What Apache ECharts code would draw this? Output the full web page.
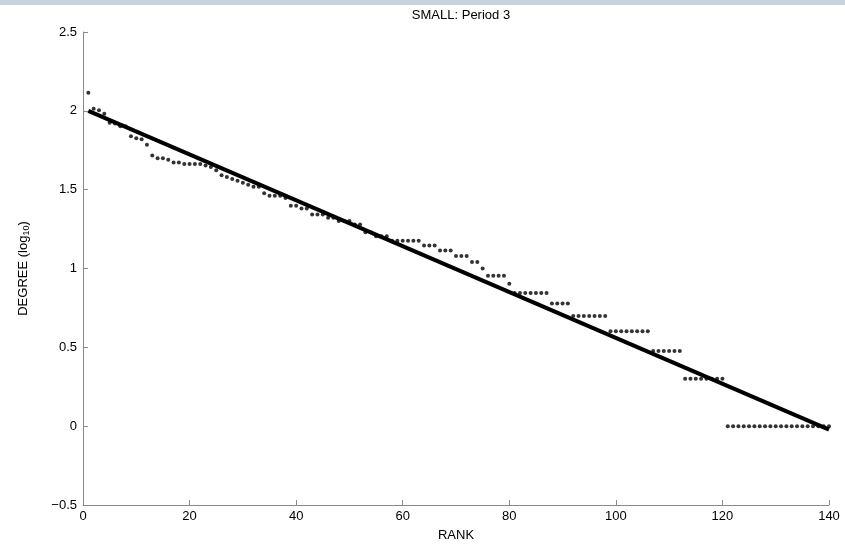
<!DOCTYPE html>
<html><head><meta charset="utf-8">
<script src="https://cdn.jsdelivr.net/npm/echarts@6/dist/echarts.min.js"></script>
<style>html,body{margin:0;padding:0;background:#fff}#c{width:845px;height:547px}</style>
</head><body><div id="c"></div>
<script>
const titleText = 'SMALL: Period 3';
const xName = 'RANK';
const ranks = [];
const degreeLog = [
 2.114, 2.013, 2.004, 1.982, 1.924, 1.919, 1.903, 1.903, 1.839, 1.826,
 1.820, 1.785, 1.716, 1.699, 1.699, 1.690, 1.672, 1.672, 1.663, 1.663,
 1.663, 1.663, 1.653, 1.643, 1.623, 1.591, 1.580, 1.568, 1.556, 1.544,
 1.531, 1.519, 1.519, 1.477, 1.462, 1.462, 1.462, 1.447, 1.398, 1.398,
 1.380, 1.380, 1.342, 1.342, 1.342, 1.322, 1.322, 1.301, 1.301, 1.301,
 1.279, 1.279, 1.230, 1.230, 1.204, 1.204, 1.204, 1.176, 1.176, 1.176,
 1.176, 1.176, 1.176, 1.146, 1.146, 1.146, 1.114, 1.114, 1.114, 1.079,
 1.079, 1.079, 1.041, 1.041, 1.000, 0.954, 0.954, 0.954, 0.954, 0.903,
 0.845, 0.845, 0.845, 0.845, 0.845, 0.845, 0.845, 0.778, 0.778, 0.778,
 0.778, 0.699, 0.699, 0.699, 0.699, 0.699, 0.699, 0.699, 0.602, 0.602,
 0.602, 0.602, 0.602, 0.602, 0.602, 0.602, 0.477, 0.477, 0.477, 0.477,
 0.477, 0.477, 0.301, 0.301, 0.301, 0.301, 0.301, 0.301, 0.301, 0.301,
 0, 0, 0, 0, 0, 0, 0, 0, 0, 0,
 0, 0, 0, 0, 0, 0, 0, 0, 0, 0
];
for (let i = 0; i < degreeLog.length; i++) ranks.push(i + 1);
const fitX = [1, 140];
const fitY = [2.0, -0.022];
const xTicks = [0, 20, 40, 60, 80, 100, 120, 140];
const yTicks = [-0.5, 0, 0.5, 1, 1.5, 2, 2.5];

const chart = echarts.init(document.getElementById('c'), null, {renderer: 'canvas'});
const font = 'Liberation Sans, Arial, sans-serif';
chart.setOption({
  animation: false,
  backgroundColor: '#fff',
  graphic: [{type: 'rect', left: 0, top: 0, shape: {width: 845, height: 5}, style: {fill: '#c9d3db'}, silent: true}],
  title: {text: titleText, left: 456, textAlign: 'center', top: 4,
    textStyle: {fontFamily: font, fontSize: 13, fontWeight: 'normal', color: '#000'}},
  grid: {left: 83, right: 16, top: 32, bottom: 39},
  xAxis: {type: 'value', min: xTicks[0], max: xTicks[xTicks.length - 1], interval: 20,
    name: xName, nameLocation: 'middle', nameGap: 24,
    nameTextStyle: {fontFamily: font, fontSize: 13, color: '#000'},
    axisLine: {onZero: false, lineStyle: {color: '#8a8a8a', width: 1}},
    axisTick: {inside: true, length: 5, lineStyle: {color: '#8a8a8a'}},
    axisLabel: {fontFamily: font, fontSize: 13, color: '#000', margin: 5},
    splitLine: {show: false}},
  yAxis: {type: 'value', min: yTicks[0], max: yTicks[yTicks.length - 1], interval: 0.5,
    name: '{a|DEGREE (log}{b|10}{a|)}', nameLocation: 'middle', nameGap: 52, nameRotate: 90,
    nameTextStyle: {rich: {a: {fontFamily: font, fontSize: 13, color: '#000'},
                           b: {fontFamily: font, fontSize: 9, color: '#000', verticalAlign: 'bottom', padding: [6, 0, 0, 0]}}},
    axisLine: {onZero: false, lineStyle: {color: '#8a8a8a', width: 1}},
    axisTick: {inside: true, length: 5, lineStyle: {color: '#8a8a8a'}},
    axisLabel: {fontFamily: font, fontSize: 13, color: '#000', margin: 6,
      formatter: v => String(v).replace('-', '\u2212')},
    splitLine: {show: false}},
  series: [
    {type: 'line', data: fitX.map((x, i) => [x, fitY[i]]), symbol: 'none',
      lineStyle: {color: '#000', width: 4}, z: 2},
    {type: 'scatter', data: ranks.map((r, i) => [r, degreeLog[i]]), symbol: 'circle', symbolSize: 4,
      itemStyle: {color: '#000'}, z: 3}
  ]
});
</script></body></html>
